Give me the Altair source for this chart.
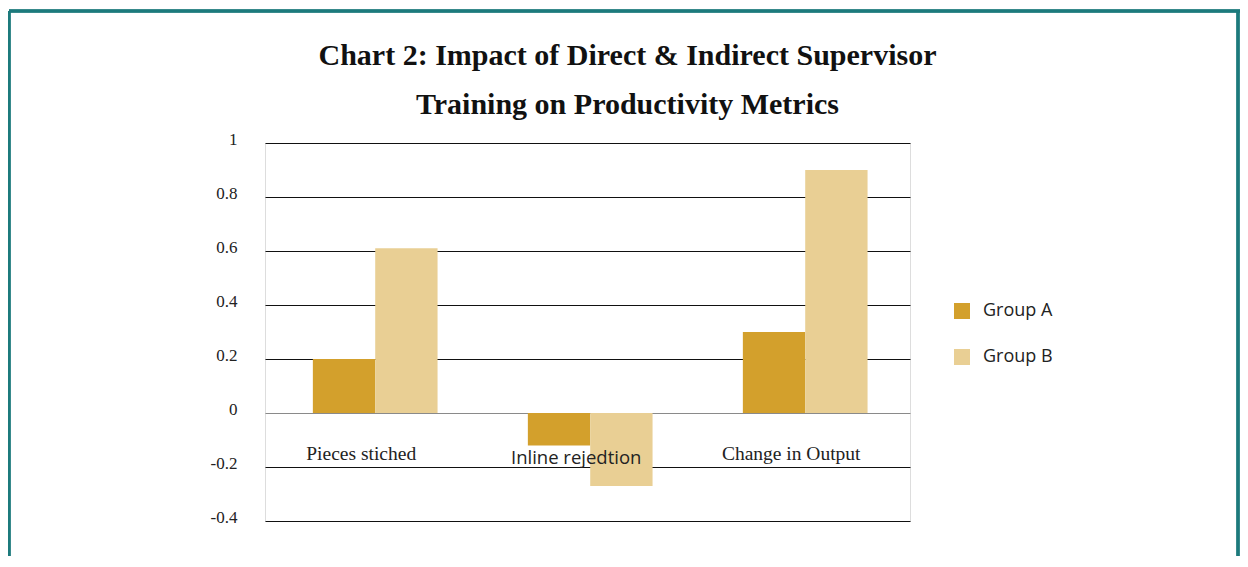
import altair as alt
import pandas as pd

categories = ["Pieces stiched", "Inline rejedtion", "Change in Output"]
groups = ["Group A", "Group B"]
group_a = [0.2, -0.12, 0.3]
group_b = [0.61, -0.27, 0.9]
y_ticks = [-0.4, -0.2, 0, 0.2, 0.4, 0.6, 0.8, 1]
label_styles = ["serif", "sans", "serif"]
title_lines = ["Chart 2: Impact of Direct & Indirect Supervisor",
               "Training on Productivity Metrics"]

rows = []
for i, c in enumerate(categories):
    rows.append({"category": c, "group": groups[0], "value": group_a[i]})
    rows.append({"category": c, "group": groups[1], "value": group_b[i]})
df = pd.DataFrame(rows)

lab = pd.DataFrame({"category": categories, "style": label_styles})

W, H = 645, 378

xscale = alt.Scale(domain=categories, paddingInner=0.42, paddingOuter=0.21, align=0.53)
yscale = alt.Scale(domain=[-0.4, 1], nice=False, zero=False)

bars = alt.Chart(df).mark_bar().encode(
    x=alt.X("category:N", scale=xscale, axis=None, sort=categories),
    xOffset=alt.XOffset("group:N", sort=groups),
    y=alt.Y("value:Q", scale=yscale,
            axis=alt.Axis(values=y_ticks, title=None, domain=False, ticks=False,
                          labelFont="Liberation Serif", labelFontSize=17,
                          labelColor="#222222", labelPadding=28, labelOffset=-4,
                          labelExpr="'' + datum.value",
                          grid=True,
                          gridColor={"condition": {"test": "datum.value === 0", "value": "#8a8a8a"},
                                     "value": "#111111"},
                          gridWidth=1.2)),
    color=alt.Color("group:N", sort=groups,
                    scale=alt.Scale(domain=groups, range=["#D3A02C", "#E9CF94"]),
                    legend=alt.Legend(title=None, orient="none", legendX=688, legendY=159,
                                      symbolType="square", symbolSize=256,
                                      symbolStrokeWidth=0, labelFont="Open Sans",
                                      labelFontSize=18, labelColor="#222222",
                                      labelOffset=12, rowPadding=28, padding=0)),
)

texts_serif = alt.Chart(lab).mark_text(
    baseline="middle", align="center", dx=-14, color="#222222",
    font="Liberation Serif", fontSize=19.5).encode(
    x=alt.X("category:N", scale=xscale, sort=categories),
    y=alt.datum(-0.15),
    text="category:N",
).transform_filter("datum.style === 'serif'")

texts_sans = alt.Chart(lab).mark_text(
    baseline="middle", align="center", dx=-14, color="#222222",
    font="Open Sans", fontSize=18.5).encode(
    x=alt.X("category:N", scale=xscale, sort=categories),
    y=alt.datum(-0.165),
    text="category:N",
).transform_filter("datum.style === 'sans'")

border_top = alt.Chart(lab).mark_rule(color="#1c7a7c", strokeWidth=3).encode(
    x=alt.value(-256), x2=alt.value(975), y=alt.value(-132))
border_left = alt.Chart(lab).mark_rule(color="#1c7a7c", strokeWidth=3).encode(
    x=alt.value(-256), y=alt.value(-132), y2=alt.value(430))
border_right = alt.Chart(lab).mark_rule(color="#1c7a7c", strokeWidth=3).encode(
    x=alt.value(973), y=alt.value(-132), y2=alt.value(430))

chart = alt.layer(bars, texts_serif, texts_sans, border_top, border_left, border_right).properties(
    width=W, height=H,
    autosize=alt.AutoSizeParams(type="none"),
    padding={"left": 257, "top": 135, "right": 330, "bottom": 35},
    title=alt.TitleParams(text=title_lines, font="Liberation Serif", fontSize=30,
                          fontWeight="bold", color="#111111", lineHeight=49,
                          anchor="middle", dx=40, offset=0, dy=110),
).configure_view(stroke="#6e6e6e", strokeWidth=2).configure(background="white")

chart.save("out.html", embed_options={"renderer": "svg", "actions": False})
